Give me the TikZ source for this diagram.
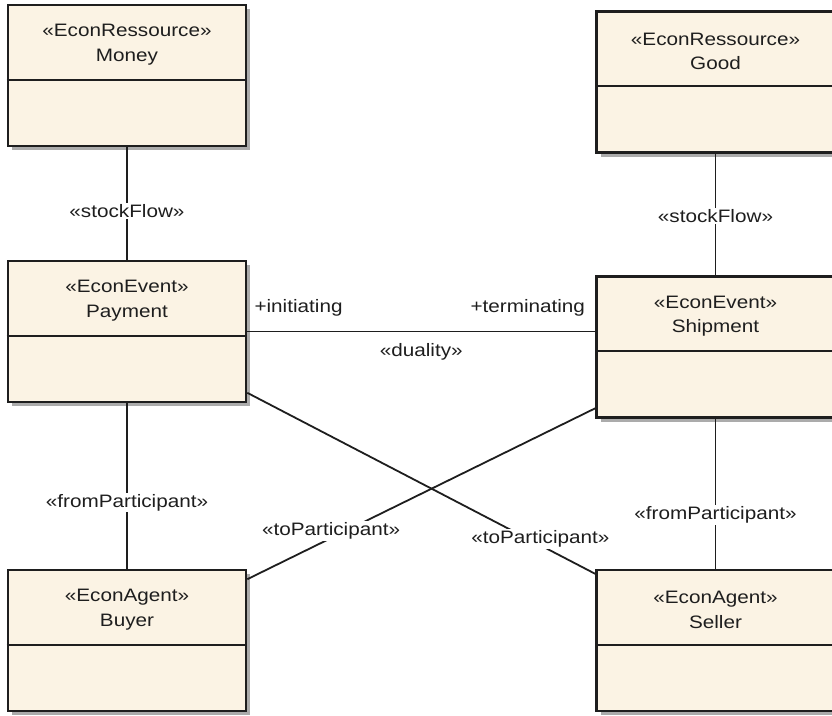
\documentclass[tikz,border=0pt]{standalone}
\usepackage{fontspec}
\setmainfont[FakeStretch=1.15]{Liberation Sans}
\usetikzlibrary{shadows}

\definecolor{classfill}{HTML}{FBF3E4}
\definecolor{shadowgray}{HTML}{ABABAB}
\definecolor{ink}{HTML}{1E1E1E}

% One UML class: name, x, y (centre), stereotype, title
\newcommand\econclass[5]{%
  \node[classbox] (#1) at (#2,#3) {};
  \draw[divider] ([yshift=-76pt]#1.north west) -- ([yshift=-76pt]#1.north east);
  \node[classtext] (#1-title) at ([yshift=-41pt]#1.north) {«#4»\\#5};
}

\begin{document}
\begin{tikzpicture}[x=1pt,y=-1pt,
  txt/.style={font=\fontsize{18}{24.5}\selectfont, text=ink},
  classbox/.style={draw=ink, line width=2.6pt, fill=classfill,
    minimum width=238pt, minimum height=141pt, inner sep=0pt,
    drop shadow={shadow xshift=4pt, shadow yshift=-4pt, fill=shadowgray, opacity=1}},
  divider/.style={draw=ink, line width=2pt},
  classtext/.style={txt, align=center, inner sep=0pt},
  conn/.style={draw=ink, line width=1.8pt},
  lbl/.style={txt, fill=white, inner sep=1.5pt},
  plain/.style={txt, inner sep=0pt},
]
\path[use as bounding box] (0,0) rectangle (832,715);
\clip (0,0) rectangle (832,715);

% classes
\econclass{money}{127}{75.5}{EconRessource}{Money}
\econclass{good}{715.5}{82}{EconRessource}{Good}
\econclass{pay}{127}{331.5}{EconEvent}{Payment}
\econclass{ship}{715.5}{347}{EconEvent}{Shipment}
\econclass{buyer}{127}{640.5}{EconAgent}{Buyer}
\econclass{sell}{715.5}{640.5}{EconAgent}{Seller}

% stock flows
\draw[conn] (money) -- node[lbl, pos=0.565] {«stockFlow»} (pay);
\draw[conn] (good) -- node[lbl, pos=0.51] {«stockFlow»} (ship);

% duality
\coordinate (dualEnd) at (pay.east -| ship.west);
\draw[conn] (pay.east) -- node[plain, midway, anchor=north, yshift=-11pt] {«duality»} (dualEnd);
\node[plain, anchor=base west] (init) at ([xshift=7pt, yshift=19pt]pay.east) {+initiating};
\node[plain, anchor=base east] (term) at ([xshift=-10pt, yshift=19pt]dualEnd) {+terminating};

% participants
\draw[conn] (pay) -- node[lbl, pos=0.6] {«fromParticipant»} (buyer);
\draw[conn] (ship) -- node[lbl, pos=0.64] {«fromParticipant»} (sell);
\draw[conn] (ship.-153.4) -- node[lbl, pos=0.716, xshift=-15pt] {«toParticipant»} (buyer.27.7);
\draw[conn] (pay.-27) -- node[lbl, pos=0.808, xshift=12pt] {«toParticipant»} (sell.151.3);
\end{tikzpicture}
\end{document}
